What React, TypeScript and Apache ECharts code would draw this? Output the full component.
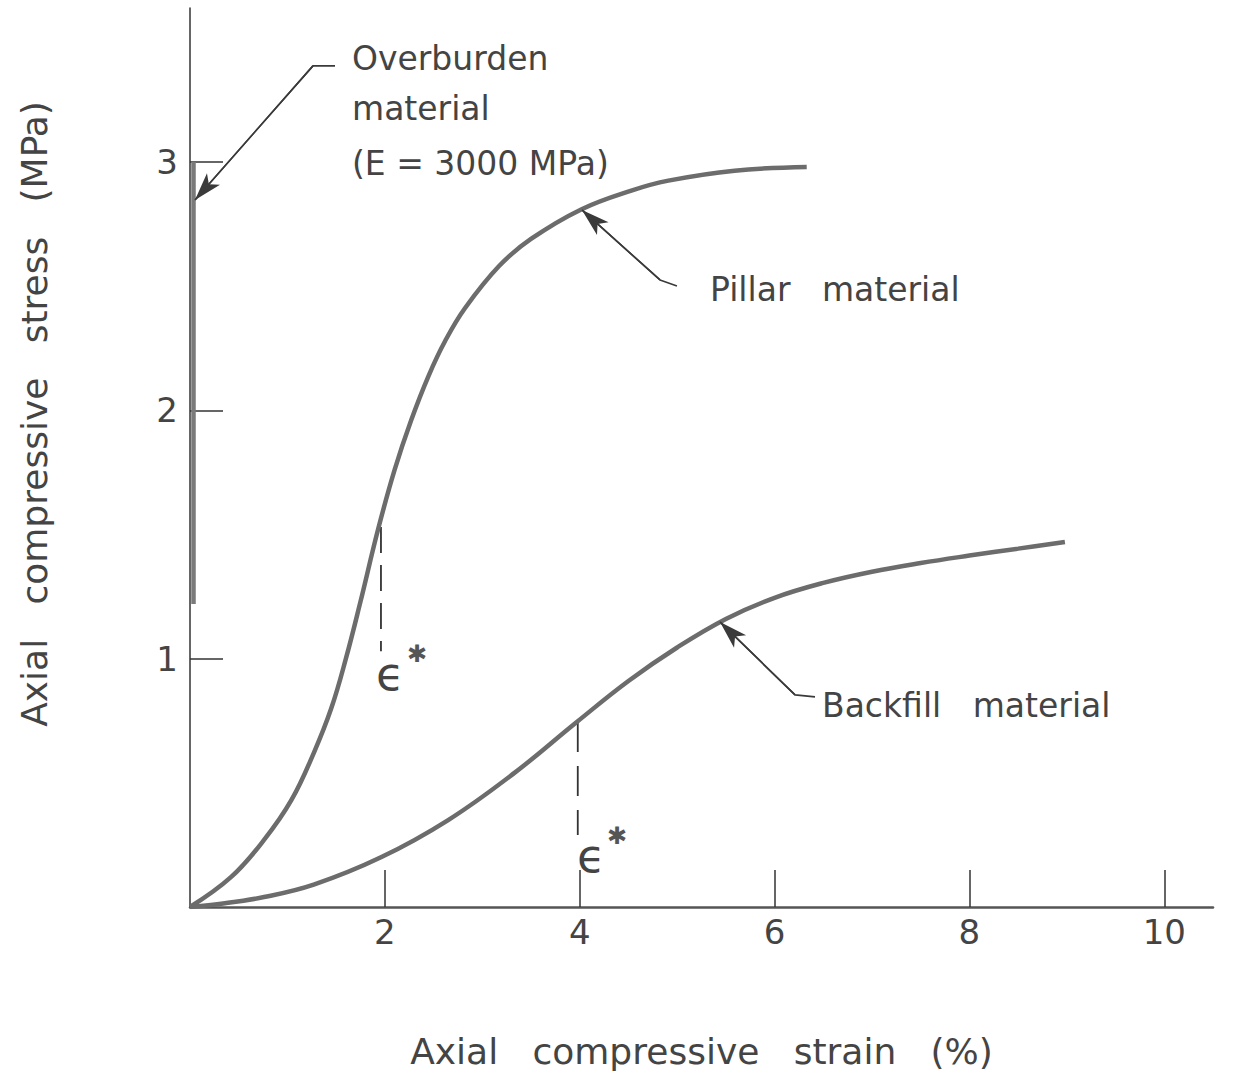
import React, { useEffect, useRef } from "react";
import * as echarts from "echarts";

// ---- data ----
const pillarStrain = [0, 0.42, 0.76, 1.04, 1.27, 1.45, 1.6, 1.75, 1.93, 2.1, 2.27, 2.45, 2.62, 2.82, 3.17, 3.5, 4.02, 4.53, 4.91, 5.59, 6.33];
const pillarStress = [0, 0.12, 0.27, 0.43, 0.62, 0.8, 1.0, 1.23, 1.52, 1.76, 1.96, 2.14, 2.28, 2.41, 2.58, 2.69, 2.81, 2.885, 2.925, 2.965, 2.98];

const backfillStrain = [0, 0.3, 0.76, 1.27, 1.96, 2.65, 3.33, 3.97, 4.5, 5.0, 5.5, 6.0, 6.5, 7.0, 7.5, 8.0, 8.5, 8.98];
const backfillStress = [0, 0.012, 0.04, 0.09, 0.2, 0.35, 0.54, 0.745, 0.91, 1.045, 1.16, 1.245, 1.305, 1.35, 1.385, 1.415, 1.443, 1.47];

const overburdenStrain = [0.036, 0.036];
const overburdenStress = [1.22, 3.0];

const epsPillarStrain = [1.96, 1.96];
const epsPillarStress = [1.53, 1.03];
const epsBackfillStrain = [3.98, 3.98];
const epsBackfillStress = [0.745, 0.29];

const xTickValues = [2, 4, 6, 8, 10];
const yTickValues = [1, 2, 3];

// leader lines (annotation geometry, data coordinates)
const overburdenLeader = [[1.488, 3.387], [1.262, 3.387], [0.051, 2.847]];
const pillarLeader = [[4.998, 2.501], [4.824, 2.525], [4.023, 2.807]];
const backfillLeader = [[6.415, 0.846], [6.21, 0.854], [5.44, 1.148]];

const zip = (a: number[], b: number[]) => a.map((v, i) => [v, b[i]]);

const FONT = "DejaVu Sans";
const TEXT = "#444";
const NB = "\u00a0";

function leaderSeries(pts: number[][]) {
  const n = pts.length;
  return {
    type: "line",
    data: pts,
    showSymbol: false,
    symbol: "none",
    silent: true,
    lineStyle: { color: "#3a3a3a", width: 1.6 },
    z: 3,
    markLine: {
      silent: true,
      animation: false,
      symbol: ["none", "arrow"],
      symbolSize: [13, 28],
      label: { show: false },
      lineStyle: { color: "#3a3a3a", width: 1.6, type: "solid" },
      itemStyle: { color: "#8a8a8a", borderColor: "#444", borderWidth: 1 },
      emphasis: { disabled: true },
      data: [[{ coord: pts[n - 2] }, { coord: pts[n - 1], itemStyle: { color: "#8a8a8a" } }]],
    },
  };
}

export default function App() {
  const ref = useRef<HTMLDivElement>(null);
  useEffect(() => {
    document.body.style.margin = "0";
    const chart = echarts.init(ref.current!, null, { renderer: "svg" });
    const curveStyle = { color: "#6c6c6c", width: 4.5 };
    chart.setOption({
      animation: false,
      backgroundColor: "#ffffff",
      grid: { left: 190, right: 20, top: 8, bottom: 184, containLabel: false },
      xAxis: {
        type: "value",
        min: 0,
        max: 10.5,
        interval: 2,
        splitLine: { show: false },
        axisLine: { show: true, onZero: false, lineStyle: { color: "#555", width: 2.5 } },
        axisTick: { show: true, inside: true, length: 37, customValues: xTickValues, lineStyle: { color: "#333", width: 1.5 } },
        axisLabel: { customValues: xTickValues, fontSize: 34, color: TEXT, fontFamily: FONT, margin: 8 },
        name: `Axial${NB}${NB}${NB}compressive${NB}${NB}${NB}strain${NB}${NB}${NB}(%)`,
        nameLocation: "middle",
        nameGap: 126,
        nameTextStyle: { fontSize: 36, color: TEXT, fontFamily: FONT },
      },
      yAxis: {
        type: "value",
        min: 0,
        max: 3.62,
        interval: 1,
        splitLine: { show: false },
        axisLine: { show: true, onZero: false, lineStyle: { color: "#333", width: 1.5 } },
        axisTick: { show: true, inside: true, length: 33, customValues: yTickValues, lineStyle: { color: "#333", width: 1.5 } },
        axisLabel: { customValues: yTickValues, fontSize: 34, color: TEXT, fontFamily: FONT, margin: 12 },
      },
      graphic: [
        {
          type: "text",
          x: 34,
          y: 414,
          rotation: Math.PI / 2,
          style: {
            text: `Axial${NB}${NB}${NB}compressive${NB}${NB}${NB}stress${NB}${NB}${NB}(MPa)`,
            font: `36px '${FONT}'`,
            fill: TEXT,
            align: "center",
            verticalAlign: "middle",
          },
        },
        { type: "text", x: 352, y: 58, style: { text: "Overburden", font: `33px '${FONT}'`, fill: TEXT, verticalAlign: "middle" } },
        { type: "text", x: 352, y: 108, style: { text: "material", font: `33px '${FONT}'`, fill: TEXT, verticalAlign: "middle" } },
        { type: "text", x: 352, y: 163, style: { text: "(E = 3000 MPa)", font: `33px '${FONT}'`, fill: TEXT, verticalAlign: "middle" } },
        { type: "text", x: 710, y: 289, style: { text: `Pillar${NB}${NB}${NB}material`, font: `33px '${FONT}'`, fill: TEXT, verticalAlign: "middle" } },
        { type: "text", x: 822, y: 705, style: { text: `Backfill${NB}${NB}${NB}material`, font: `33px '${FONT}'`, fill: TEXT, verticalAlign: "middle" } },
        { type: "text", x: 376, y: 674, style: { text: "ϵ", font: `46px '${FONT}'`, fill: TEXT, verticalAlign: "middle" } },
        { type: "text", x: 407, y: 654, style: { text: "✱", font: `24px '${FONT}'`, fill: "#555", verticalAlign: "middle" } },
        { type: "text", x: 577, y: 856, style: { text: "ϵ", font: `46px '${FONT}'`, fill: TEXT, verticalAlign: "middle" } },
        { type: "text", x: 607, y: 836, style: { text: "✱", font: `24px '${FONT}'`, fill: "#555", verticalAlign: "middle" } },
      ],
      series: [
        {
          type: "line",
          name: "Pillar material",
          data: zip(pillarStrain, pillarStress),
          smooth: 0.4,
          showSymbol: false,
          symbol: "none",
          lineStyle: curveStyle,
          z: 4,
        },
        {
          type: "line",
          name: "Backfill material",
          data: zip(backfillStrain, backfillStress),
          smooth: 0.4,
          showSymbol: false,
          symbol: "none",
          lineStyle: curveStyle,
          z: 4,
        },
        {
          type: "line",
          name: "Overburden material",
          data: zip(overburdenStrain, overburdenStress),
          showSymbol: false,
          symbol: "none",
          lineStyle: { color: "#7a7a7a", width: 4.5 },
          z: 4,
        },
        {
          type: "line",
          data: zip(epsPillarStrain, epsPillarStress),
          showSymbol: false,
          symbol: "none",
          lineStyle: { color: "#333", width: 1.8, type: [26, 12] },
          z: 3,
        },
        {
          type: "line",
          data: zip(epsBackfillStrain, epsBackfillStress),
          showSymbol: false,
          symbol: "none",
          lineStyle: { color: "#333", width: 1.8, type: [30, 14] },
          z: 3,
        },
        leaderSeries(overburdenLeader),
        leaderSeries(pillarLeader),
        leaderSeries(backfillLeader),
      ],
    });
    return () => chart.dispose();
  }, []);
  return <div ref={ref} style={{ width: 1233, height: 1091 }} />;
}
